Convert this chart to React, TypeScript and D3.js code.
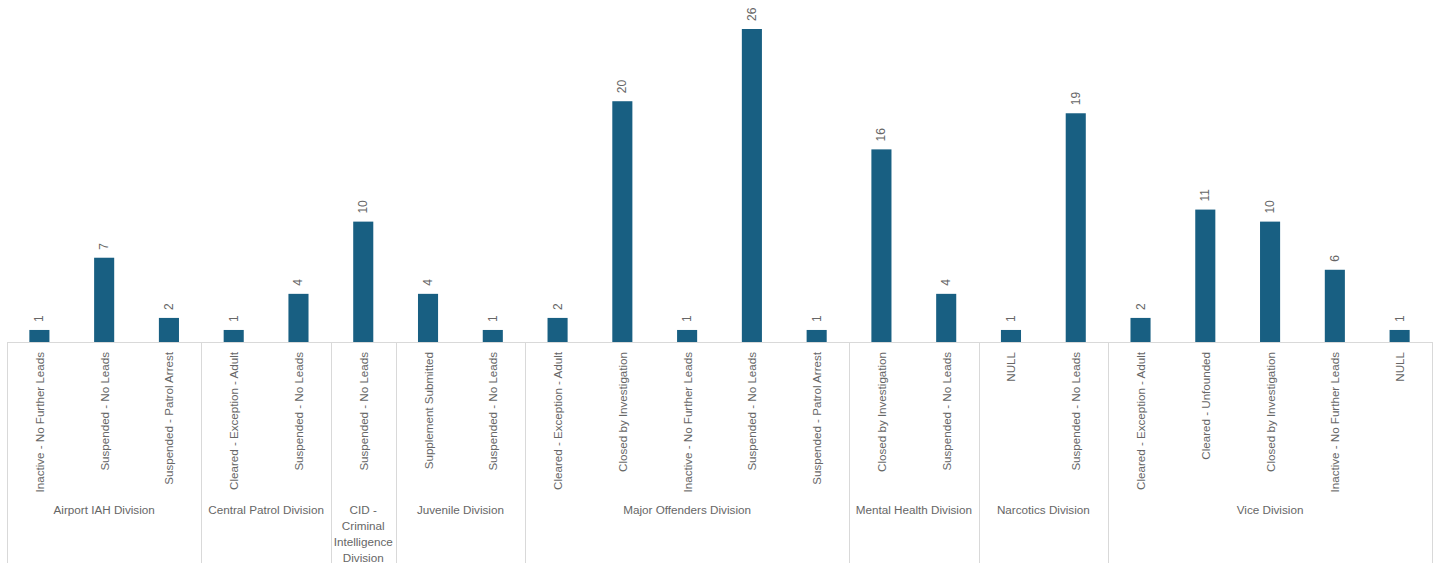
import React, { useEffect, useRef } from "react";
import * as d3 from "d3";

const divisions = [
  "Airport IAH Division",
  "Central Patrol Division",
  "CID - Criminal Intelligence Division",
  "Juvenile Division",
  "Major Offenders Division",
  "Mental Health Division",
  "Narcotics Division",
  "Vice Division",
];

const divisionLines: string[][] = [
  ["Airport IAH Division"],
  ["Central Patrol Division"],
  ["CID -", "Criminal", "Intelligence", "Division"],
  ["Juvenile Division"],
  ["Major Offenders Division"],
  ["Mental Health Division"],
  ["Narcotics Division"],
  ["Vice Division"],
];

const statuses: string[][] = [
  ["Inactive - No Further Leads", "Suspended - No Leads", "Suspended - Patrol Arrest"],
  ["Cleared - Exception - Adult", "Suspended - No Leads"],
  ["Suspended - No Leads"],
  ["Supplement Submitted", "Suspended - No Leads"],
  ["Cleared - Exception - Adult", "Closed by Investigation", "Inactive - No Further Leads", "Suspended - No Leads", "Suspended - Patrol Arrest"],
  ["Closed by Investigation", "Suspended - No Leads"],
  ["NULL", "Suspended - No Leads"],
  ["Cleared - Exception - Adult", "Cleared - Unfounded", "Closed by Investigation", "Inactive - No Further Leads", "NULL"],
];

const counts: number[][] = [
  [1, 7, 2],
  [1, 4],
  [10],
  [4, 1],
  [2, 20, 1, 26, 1],
  [16, 4],
  [1, 19],
  [2, 11, 10, 6, 1],
];

const W = 1437;
const H = 563;
const BAR = "#185f82";
const TXT = "#666666";
const LINE = "#d9d9d9";
const FONT = "'Liberation Sans', Arial, sans-serif";

export default function App() {
  const ref = useRef<SVGSVGElement | null>(null);
  useEffect(() => {
    const svg = d3.select(ref.current);
    svg.selectAll("*").remove();

    const rows: { key: string; div: number; status: string; v: number }[] = [];
    divisions.forEach((d, i) => {
      statuses[i].forEach((s, j) => {
        rows.push({ key: `${i}-${j}`, div: i, status: s, v: counts[i][j] });
      });
    });

    const left = 7, right = 1432, base = 342;
    const x = d3.scaleBand<string>().domain(rows.map((r) => r.key)).range([left, right]).paddingInner(0.69).paddingOuter(0.345);
    const y = d3.scaleLinear().domain([0, 26]).range([base, 29]);
    const step = x.step();

    svg.append("g").selectAll("rect").data(rows).join("rect")
      .attr("x", (d) => x(d.key)!)
      .attr("width", x.bandwidth())
      .attr("y", (d) => y(d.v))
      .attr("height", (d) => base - y(d.v))
      .attr("fill", BAR);

    svg.append("g").selectAll("text").data(rows).join("text")
      .attr("transform", (d) => `translate(${x(d.key)! + x.bandwidth() / 2},${y(d.v) - 8}) rotate(-90)`)
      .attr("text-anchor", "start")
      .attr("dominant-baseline", "central")
      .attr("font-family", FONT)
      .attr("font-size", 12)
      .attr("fill", TXT)
      .text((d) => d.v);

    const g = svg.append("g").attr("stroke", LINE).attr("stroke-width", 1).attr("fill", "none");
    g.append("line").attr("x1", left).attr("x2", right).attr("y1", base + 0.5).attr("y2", base + 0.5);
    let idx = 0;
    const bounds: number[] = [left];
    statuses.forEach((s) => { idx += s.length; bounds.push(left + idx * step); });
    bounds.forEach((b) => {
      g.append("line").attr("x1", Math.round(b) + 0.5).attr("x2", Math.round(b) + 0.5).attr("y1", base).attr("y2", H);
    });

    svg.append("g").selectAll("text").data(rows).join("text")
      .attr("transform", (d) => `translate(${x(d.key)! + x.bandwidth() / 2},${base + 10}) rotate(-90)`)
      .attr("text-anchor", "end")
      .attr("dominant-baseline", "central")
      .attr("font-family", FONT)
      .attr("font-size", 11.6)
      .attr("fill", TXT)
      .text((d) => d.status);

    divisionLines.forEach((lines, i) => {
      const cx = (bounds[i] + bounds[i + 1]) / 2;
      const t = svg.append("text")
        .attr("text-anchor", "middle")
        .attr("font-family", FONT)
        .attr("font-size", 11.7)
        .attr("fill", TXT);
      lines.forEach((l, k) => {
        t.append("tspan").attr("x", cx).attr("y", 513.5 + k * 16.3).text(l);
      });
    });
  }, []);

  return (
    <svg ref={ref} width={W} height={H} style={{ position: "absolute", left: 0, top: 0, background: "#fff" }} />
  );
}
